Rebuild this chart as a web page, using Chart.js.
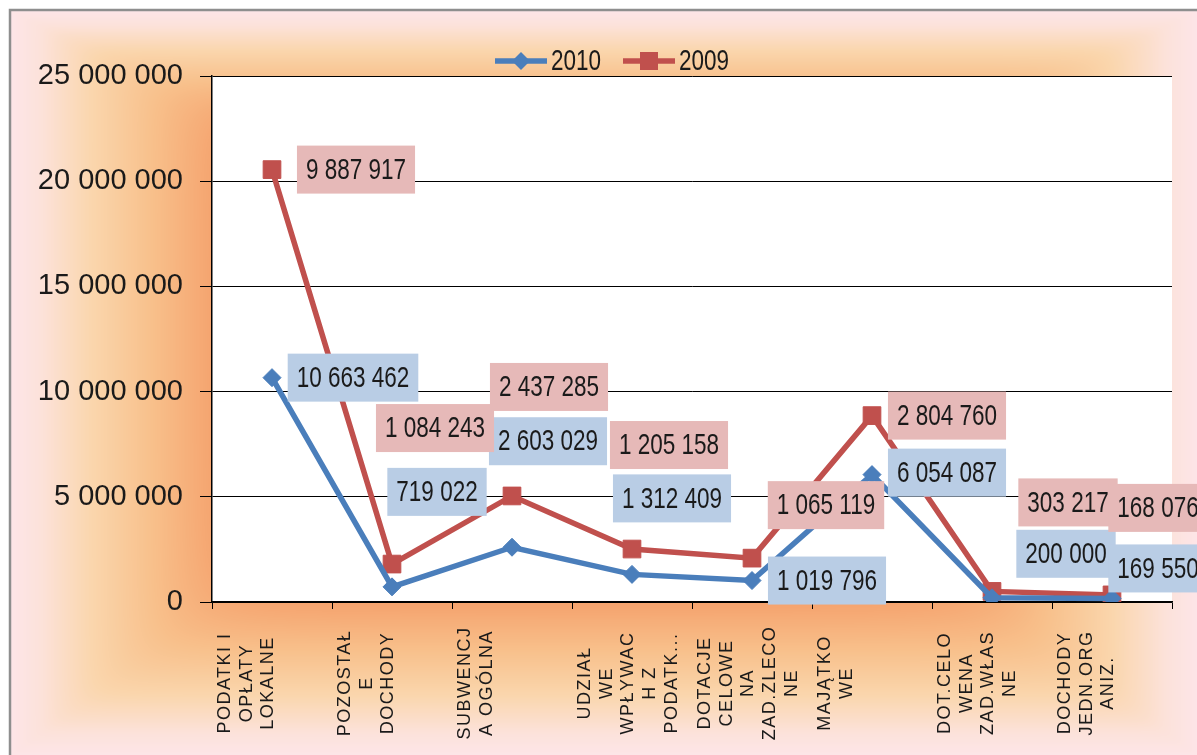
<!DOCTYPE html>
<html>
<head>
<meta charset="utf-8">
<script src="https://cdn.jsdelivr.net/npm/chart.js@4.4.0/dist/chart.umd.min.js"></script>
<style>
  html, body { margin: 0; padding: 0; background: #fff; }
  canvas { display: block; }
</style>
</head>
<body>
<canvas id="chart" width="1197" height="755"></canvas>
<script>
// category labels, one entry per line as wrapped in the original
const CATEGORIES = [
    ['PODATKI I', 'OPŁATY', 'LOKALNE'],
    ['POZOSTAŁ', 'E', 'DOCHODY'],
    ['SUBWENCJ', 'A OGÓLNA'],
    ['UDZIAŁ', 'WE', 'WPŁYWAC', 'H Z', 'PODATK...'],
    ['DOTACJE', 'CELOWE', 'NA', 'ZAD.ZLECO', 'NE'],
    ['MAJĄTKO', 'WE'],
    ['DOT.CELO', 'WENA', 'ZAD.WŁAS', 'NE'],
    ['DOCHODY', 'JEDN.ORG', 'ANIZ.']
];
const SERIES_NAMES = ['2010', '2009'];
const VALUES_2010 = [10663462, 719022, 2603029, 1312409, 1019796, 6054087, 200000, 169550];
const VALUES_2009 = [9887917, 1084243, 2437285, 1205158, 1065119, 2804760, 303217, 168076];
const Y_MIN = 0;
const Y_MAX = 25000000;
const Y_STEP = 5000000;

// where each value label sits relative to its point (px)
const LABEL_OFFSETS = [
    [[81, 0], [45, -95], [36, -106], [40, -76], [75, 0], [75, -2], [74, -44], [46, -30]],
    [[84, 0], [43, -136], [37, -109], [37, -104], [74, -53], [75, 0], [76, -89], [46, -87]]
];

const BLUE = '#4a7ebb';
const RED = '#c0504d';
const LABEL_BG = ['#b9cde5', '#e6b9b8'];
const TEXT = '#1a1a1a';
const LABEL_FONT = '30px "Liberation Sans", Arial, sans-serif';
const LABEL_SX = 0.75;

function fmt(n) {
    return String(n).replace(/\B(?=(\d{3})+(?!\d))/g, ' ');
}

function scaledText(ctx, text, x, y, align) {
    ctx.save();
    ctx.translate(x, y);
    ctx.scale(LABEL_SX, 1);
    ctx.textAlign = align || 'center';
    ctx.textBaseline = 'middle';
    ctx.fillText(text, 0, 1);
    ctx.restore();
}

// frame fill: pink at the frame edge, orange towards the plot
const RAMP = [[0, [253, 229, 232]], [0.15, [252, 226, 218]], [0.4, [250, 214, 173]], [0.7, [248, 192, 139]], [1, [245, 164, 111]]];

function rampColor(s) {
    for (let k = 1; k < RAMP.length; k++) {
        if (s <= RAMP[k][0]) {
            const [t0, c0] = RAMP[k - 1], [t1, c1] = RAMP[k];
            const f = (s - t0) / (t1 - t0);
            return c0.map((v, j) => v + (c1[j] - v) * f);
        }
    }
    return RAMP[RAMP.length - 1][1];
}

const background = {
    id: 'background',
    beforeDraw(chart) {
        const { ctx, width, height, chartArea } = chart;
        const img = ctx.createImageData(width, height);
        const d = img.data;
        const lut = [];
        for (let k = 0; k <= 255; k++) lut.push(rampColor(k / 255));
        for (let y = 0; y < height; y++) {
            for (let x = 0; x < width; x++) {
                const o = (y * width + x) * 4;
                if (x < 10 || y < 10) {
                    d[o] = d[o + 1] = d[o + 2] = 255; d[o + 3] = 255;
                    continue;
                }
                const sL = Math.max((x - 10) / 202, 0.001);
                const sT = Math.max((y - 10) / 100, 0.001);
                const sB = Math.max((height - y) / 150, 0.001);
                const sR = Math.max((width - x) / 210, 0.001);
                let s = Math.pow(Math.pow(sL, -6) + Math.pow(sT, -6) + Math.pow(sB, -6) + Math.pow(sR, -6), -1 / 6);
                s = Math.min(1, s);
                const c = lut[Math.round(s * 255)];
                d[o] = c[0]; d[o + 1] = c[1]; d[o + 2] = c[2]; d[o + 3] = 255;
            }
        }
        ctx.putImageData(img, 0, 0);

        ctx.save();
        ctx.strokeStyle = '#8e8e8e';
        ctx.lineWidth = 2.5;
        ctx.beginPath();
        ctx.moveTo(10, height + 5);
        ctx.lineTo(10, 10);
        ctx.lineTo(width + 5, 10);
        ctx.stroke();
        ctx.fillStyle = '#fff';
        ctx.fillRect(chartArea.left, chartArea.top, chartArea.right - chartArea.left, chartArea.bottom - chartArea.top);
        ctx.restore();
    }
};

const valueLabels = {
    id: 'valueLabels',
    afterDatasetsDraw(chart) {
        const ctx = chart.ctx;
        ctx.save();
        ctx.font = LABEL_FONT;
        chart.data.datasets.forEach((ds, di) => {
            const meta = chart.getDatasetMeta(di);
            meta.data.forEach((pt, i) => {
                const text = fmt(ds.data[i]);
                const [dx, dy] = LABEL_OFFSETS[di][i];
                const w = ctx.measureText(text).width * LABEL_SX + 18;
                const h = 48;
                const x = pt.x + dx, y = pt.y + dy;
                ctx.fillStyle = LABEL_BG[di];
                ctx.fillRect(x - w / 2, y - h / 2, w, h);
                ctx.fillStyle = TEXT;
                scaledText(ctx, text, x, y);
            });
        });
        ctx.restore();
    }
};

const xLabels = {
    id: 'xLabels',
    afterDraw(chart) {
        const { ctx } = chart;
        const x = chart.scales.x;
        const half = (x.getPixelForValue(1) - x.getPixelForValue(0)) / 2;
        ctx.save();
        ctx.font = '18px "Liberation Sans", Arial, sans-serif';
        ctx.letterSpacing = '1.5px';
        ctx.fillStyle = TEXT;
        ctx.textAlign = 'center';
        ctx.textBaseline = 'middle';
        CATEGORIES.forEach((lines, i) => {
            const left = x.getPixelForValue(i) - half;
            lines.forEach((line, j) => {
                ctx.save();
                ctx.translate(left + 13 + j * 21.7, 683);
                ctx.rotate(-Math.PI / 2);
                ctx.fillText(line, 0, 0);
                ctx.restore();
            });
        });
        ctx.restore();
    }
};

const legend = {
    id: 'customLegend',
    afterDraw(chart) {
        const ctx = chart.ctx;
        const y = 61;
        const items = [
            { name: SERIES_NAMES[0], color: BLUE, shape: 'diamond', x: 495 },
            { name: SERIES_NAMES[1], color: RED, shape: 'square', x: 623 }
        ];
        ctx.save();
        ctx.font = LABEL_FONT;
        items.forEach(it => {
            ctx.strokeStyle = it.color;
            ctx.lineWidth = 5.5;
            ctx.beginPath();
            ctx.moveTo(it.x, y);
            ctx.lineTo(it.x + 52, y);
            ctx.stroke();
            ctx.fillStyle = it.color;
            const mx = it.x + 26;
            ctx.beginPath();
            if (it.shape === 'diamond') {
                ctx.moveTo(mx - 9, y); ctx.lineTo(mx, y - 9); ctx.lineTo(mx + 9, y); ctx.lineTo(mx, y + 9);
            } else {
                ctx.rect(mx - 9, y - 9, 18, 18);
            }
            ctx.closePath();
            ctx.fill();
            ctx.fillStyle = TEXT;
            scaledText(ctx, it.name, it.x + 56, y, 'left');
        });
        ctx.restore();
    }
};

new Chart(document.getElementById('chart'), {
    type: 'line',
    data: {
        labels: CATEGORIES.map(l => l.join(' ')),
        datasets: [
            {
                label: SERIES_NAMES[0],
                data: VALUES_2010,
                borderColor: BLUE,
                backgroundColor: BLUE,
                borderWidth: 5.5,
                pointStyle: 'rectRot',
                pointRadius: 9,
                pointBorderWidth: 1,
                tension: 0,
                fill: false
            },
            {
                label: SERIES_NAMES[1],
                data: VALUES_2009,
                borderColor: RED,
                backgroundColor: RED,
                borderWidth: 5.5,
                pointStyle: 'rect',
                pointRadius: 12.5,
                pointBorderWidth: 1,
                tension: 0,
                fill: false
            }
        ]
    },
    options: {
        responsive: false,
        devicePixelRatio: 1,
        animation: false,
        layout: { padding: { top: 76, right: 25, left: 0, bottom: 0 } },
        plugins: {
            legend: { display: false },
            tooltip: { enabled: false }
        },
        scales: {
            x: {
                offset: true,
                grid: { offset: true, drawOnChartArea: false, drawTicks: true, tickLength: 7, color: '#000' },
                border: { color: '#000', width: 1.5 },
                ticks: { display: false },
                afterFit(s) { s.height = 153; }
            },
            y: {
                stacked: true,
                min: Y_MIN,
                max: Y_MAX,
                ticks: {
                    stepSize: Y_STEP,
                    padding: 17,
                    color: TEXT,
                    font: { family: '"Liberation Sans", Arial, sans-serif', size: 29 },
                    callback: v => fmt(v)
                },
                grid: { color: '#000', lineWidth: 1, tickLength: 12 },
                border: { color: '#000', width: 1.5 },
                afterFit(s) { s.width = 212; }
            }
        }
    },
    plugins: [background, valueLabels, xLabels, legend]
});
</script>
</body>
</html>
